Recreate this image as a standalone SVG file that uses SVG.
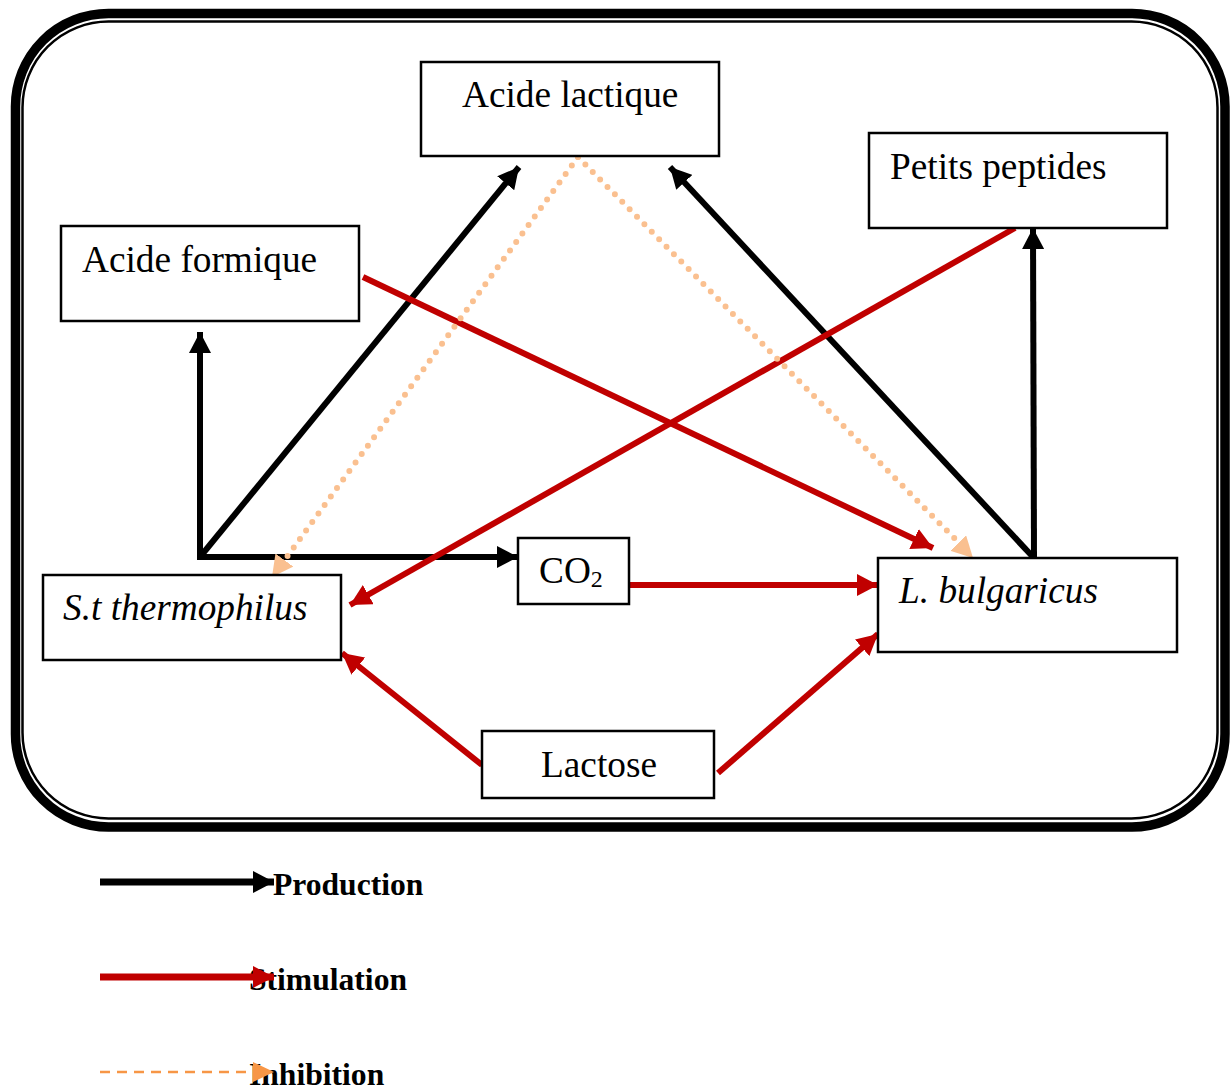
<svg xmlns="http://www.w3.org/2000/svg" width="1231" height="1091" viewBox="0 0 1231 1091">
  <defs>
    <style>
      .box { fill: #ffffff; stroke: #000000; stroke-width: 2.5; }
      .lbl { font-family: "Liberation Serif", "Times New Roman", serif; font-size: 37.3px; fill: #000000; }
      .it { font-style: italic; }
      .leg { font-family: "Liberation Serif", "Times New Roman", serif; font-size: 31.6px; font-weight: bold; fill: #000000; }
      .prod { fill: none; stroke: #000000; stroke-width: 6; }
      .stim { fill: none; stroke: #c00000; stroke-width: 6; }
      .inh { fill: none; stroke: #fac090; stroke-width: 6; stroke-linecap: round; stroke-dasharray: 0 10.5; }
    </style>
    <marker id="mBlack" markerUnits="userSpaceOnUse" markerWidth="22" markerHeight="22" refX="21" refY="11" orient="auto">
      <path d="M0,0 L21,11 L0,22 z" fill="#000000"/>
    </marker>
    <marker id="mRed" markerUnits="userSpaceOnUse" markerWidth="22" markerHeight="22" refX="21" refY="11" orient="auto">
      <path d="M0,0 L21,11 L0,22 z" fill="#c00000"/>
    </marker>
    <marker id="mPeach" markerUnits="userSpaceOnUse" markerWidth="22" markerHeight="22" refX="21" refY="11" orient="auto">
      <path d="M0,0 L21,11 L0,22 z" fill="#fac090"/>
    </marker>
    <marker id="mOrange" markerUnits="userSpaceOnUse" markerWidth="22" markerHeight="22" refX="21" refY="11" orient="auto">
      <path d="M0,1 L21,11 L0,21 z" fill="#f79646"/>
    </marker>
  </defs>

  <g id="frame">
    <rect x="15.5" y="13.5" width="1209.5" height="813.5" rx="93" ry="93" fill="none" stroke="#000000" stroke-width="9.5"/>
    <rect x="22.5" y="21.5" width="1195" height="797" rx="86" ry="86" fill="none" stroke="#000000" stroke-width="2.5"/>
  </g>

  <g id="connectors">
    <!-- production -->
    <path class="prod" d="M200,557 L200,332" marker-end="url(#mBlack)"/>
    <path class="prod" d="M197,557 L518,557" marker-end="url(#mBlack)"/>
    <path class="prod" d="M200,557 L519,167" marker-end="url(#mBlack)"/>
    <path class="prod" d="M1033,557 L670,167" marker-end="url(#mBlack)"/>
    <path class="prod" d="M1034,558 L1033,228" marker-end="url(#mBlack)"/>
    <!-- stimulation -->
    <path class="stim" d="M363,277 L933,548" marker-end="url(#mRed)"/>
    <path class="stim" d="M1015,228 L350,605" marker-end="url(#mRed)"/>
    <path class="stim" d="M630,585 L878,585" marker-end="url(#mRed)"/>
    <path class="stim" d="M482,765 L342,653" marker-end="url(#mRed)"/>
    <path class="stim" d="M718,773 L878,634" marker-end="url(#mRed)"/>
    <!-- inhibition -->
    <path class="inh" d="M578,157 L281,565"/>
    <path class="inh" d="M578,157 L964,548"/>
    <path d="M578,157 L272,577" fill="none" stroke="none" marker-end="url(#mPeach)"/>
    <path d="M578,157 L973,558" fill="none" stroke="none" marker-end="url(#mPeach)"/>
  </g>

  <g id="node-acide-lactique">
    <rect class="box" x="421" y="62" width="298" height="94"/>
    <text class="lbl" x="462" y="107">Acide lactique</text>
  </g>
  <g id="node-petits-peptides">
    <rect class="box" x="869" y="133" width="298" height="95"/>
    <text class="lbl" x="890" y="179">Petits peptides</text>
  </g>
  <g id="node-acide-formique">
    <rect class="box" x="61" y="226" width="298" height="95"/>
    <text class="lbl" x="82" y="272">Acide formique</text>
  </g>
  <g id="node-st-thermophilus">
    <rect class="box" x="43" y="575" width="298" height="85"/>
    <text class="lbl it" x="63" y="620">S.t thermophilus</text>
  </g>
  <g id="node-co2">
    <rect class="box" x="518" y="538" width="111" height="66"/>
    <text class="lbl" x="539" y="583">CO<tspan font-size="24" dy="4">2</tspan></text>
  </g>
  <g id="node-l-bulgaricus">
    <rect class="box" x="878" y="558" width="299" height="94"/>
    <text class="lbl it" x="899" y="603">L. bulgaricus</text>
  </g>
  <g id="node-lactose">
    <rect class="box" x="482" y="731" width="232" height="67"/>
    <text class="lbl" x="541" y="777">Lactose</text>
  </g>

  <g id="legend">
    <path d="M100,882 L274,882" fill="none" stroke="#000000" stroke-width="7" marker-end="url(#mBlack)"/>
    <text class="leg" x="273" y="895">Production</text>
    <text class="leg" x="249" y="990">Stimulation</text>
    <path d="M100,977 L274,977" fill="none" stroke="#c00000" stroke-width="7" marker-end="url(#mRed)"/>
    <text class="leg" x="249" y="1085">Inhibition</text>
    <path d="M100,1072 L262,1072" fill="none" stroke="#f79646" stroke-width="2.5" stroke-dasharray="10 7"/>
    <path d="M100,1072 L274,1072" fill="none" stroke="none" marker-end="url(#mOrange)"/>
  </g>
</svg>
